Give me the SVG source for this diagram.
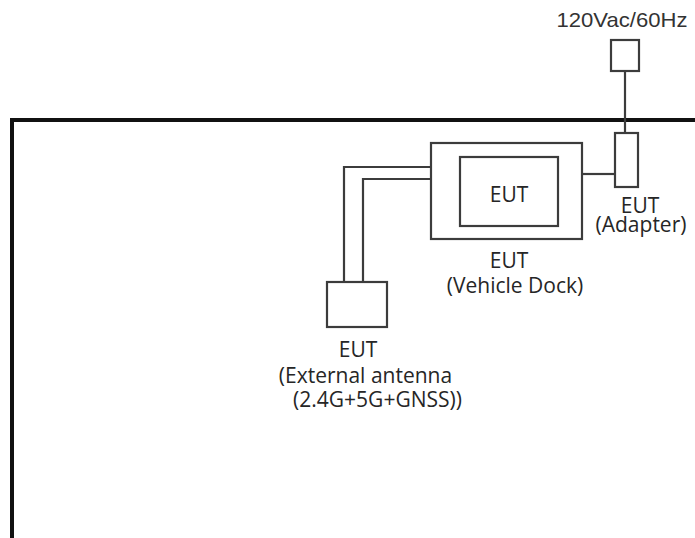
<svg xmlns="http://www.w3.org/2000/svg" width="695" height="538" viewBox="0 0 695 538">
<style>
.box{fill:#fff;stroke:#3c3c3c;stroke-width:2.2}
.ln{fill:none;stroke:#3c3c3c;stroke-width:2.2}
.t{font-family:"Open Sans","Noto Sans",sans-serif;font-size:21px;fill:#262626;text-anchor:middle}
.ta{font-family:"Liberation Sans",Arial,sans-serif;font-size:21px;fill:#333;text-anchor:middle}
</style>
<rect width="695" height="538" fill="#fff"/>
<g id="room"><path d="M12 538 V120 H700" fill="none" stroke="#111" stroke-width="4"/></g>
<g id="connectors">
<path class="ln" d="M625 71 V133"/>
<path class="ln" d="M582 174 H614"/>
<path class="ln" d="M431 167 H344 V282"/>
<path class="ln" d="M431 179 H363 V282"/>
</g>
<g id="power"><rect class="box" x="611" y="40" width="28" height="31"/><text class="ta" x="622" y="27" textLength="131" lengthAdjust="spacingAndGlyphs">120Vac/60Hz</text></g>
<g id="adapter"><rect class="box" x="615" y="133" width="23" height="54"/><text class="t" x="640" y="213">EUT</text><text class="t" x="641" y="232">(Adapter)</text></g>
<g id="dock"><rect class="box" x="431" y="143" width="151" height="96"/><text class="t" x="509" y="268">EUT</text><text class="t" x="515" y="293">(Vehicle Dock)</text></g>
<g id="eut"><rect class="box" x="460" y="157" width="98" height="69"/><text class="t" x="509" y="202">EUT</text></g>
<g id="antenna"><rect class="box" x="327" y="282" width="60" height="45"/><text class="t" x="358" y="357">EUT</text><text class="t" x="365.5" y="383">(External antenna</text><text class="t" x="377.5" y="407">(2.4G+5G+GNSS))</text></g>
</svg>
